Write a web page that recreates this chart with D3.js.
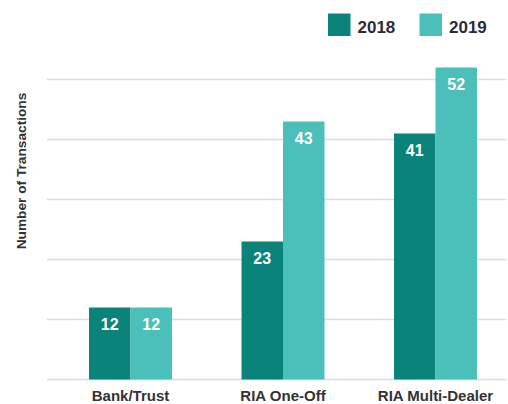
<!DOCTYPE html>
<html>
<head>
<meta charset="utf-8">
<script src="https://cdn.jsdelivr.net/npm/d3@7"></script>
<style>
  body { margin: 0; background: #fff; }
  svg { display: block; font-family: "Liberation Sans", Arial, sans-serif; }
</style>
</head>
<body>
<script>
// chart data
var categories = ["Bank/Trust", "RIA One-Off", "RIA Multi-Dealer"];
var seriesNames = ["2018", "2019"];
var values2018 = [12, 23, 41];
var values2019 = [12, 43, 52];
var gridTicks = [0, 10, 20, 30, 40, 50];

var colors = { "2018": "#0a847a", "2019": "#4bbfba" };
var width = 508, height = 404;

var svg = d3.select("body").append("svg")
	.attr("width", width)
	.attr("height", height);

// scales
var y = d3.scaleLinear()
	.domain([0, 50])
	.range([379.5, 79.5]);

var x = d3.scaleBand()
	.domain(categories)
	.range([54.25, 511.75])
	.paddingInner(0.456)
	.paddingOuter(0.228);

var xSub = d3.scaleBand()
	.domain(seriesNames)
	.range([0, x.bandwidth()]);

// gridlines
svg.append("g")
	.selectAll("line")
	.data(gridTicks)
	.enter().append("line")
	.attr("x1", 47)
	.attr("x2", 506)
	.attr("y1", function(d){ return y(d); })
	.attr("y2", function(d){ return y(d); })
	.attr("stroke", "#dcdcdc")
	.attr("stroke-width", 1.5);

// bars
var rows = categories.map(function(c, i){
	return { cat: c, vals: [
		{ key: "2018", v: values2018[i] },
		{ key: "2019", v: values2019[i] }
	]};
});

var groups = svg.append("g")
	.selectAll("g")
	.data(rows)
	.enter().append("g")
	.attr("transform", function(d){ return "translate(" + x(d.cat) + ",0)"; });

groups.selectAll("rect")
	.data(function(d){ return d.vals; })
	.enter().append("rect")
	.attr("x", function(d){ return xSub(d.key); })
	.attr("y", function(d){ return y(d.v); })
	.attr("width", xSub.bandwidth())
	.attr("height", function(d){ return y(0) - y(d.v); })
	.attr("fill", function(d){ return colors[d.key]; });

groups.selectAll("text")
	.data(function(d){ return d.vals; })
	.enter().append("text")
	.attr("x", function(d){ return xSub(d.key) + xSub.bandwidth()/2; })
	.attr("y", function(d){ return y(d.v) + 22.5; })
	.attr("text-anchor", "middle")
	.attr("fill", "#fff")
	.style("font-size", "16px")
	.style("font-weight", "bold")
	.text(function(d){ return d.v; });

// x axis labels
var xAxis = d3.axisBottom(x).tickSize(0).tickPadding(0);
var xAxisGroup = svg.append("g")
	.attr("transform", "translate(0,390)")
	.call(xAxis);
xAxisGroup.select(".domain").remove();
xAxisGroup.selectAll("text")
	.attr("dy", "0.71em")
	.attr("fill", "#333")
	.style("font-size", "15px")
	.style("font-weight", "bold")
	.style("font-family", "'Liberation Sans', Arial, sans-serif");

// y axis title
svg.append("text")
	.attr("transform", "translate(26,171) rotate(-90)")
	.attr("text-anchor", "middle")
	.attr("fill", "#333")
	.style("font-size", "13.7px")
	.style("font-weight", "bold")
	.text("Number of Transactions");

// legend
var legendX = [328, 419.5];
var legend = svg.append("g")
	.selectAll("g")
	.data(seriesNames)
	.enter().append("g")
	.attr("transform", function(d, i){ return "translate(" + legendX[i] + ",13.5)"; });

legend.append("rect")
	.attr("width", 22.5)
	.attr("height", 22.5)
	.attr("fill", function(d){ return colors[d]; });

legend.append("text")
	.attr("x", 29.5)
	.attr("y", 19.5)
	.attr("fill", "#2b2b36")
	.style("font-size", "17px")
	.style("font-weight", "bold")
	.text(function(d){ return d; });
</script>
</body>
</html>
